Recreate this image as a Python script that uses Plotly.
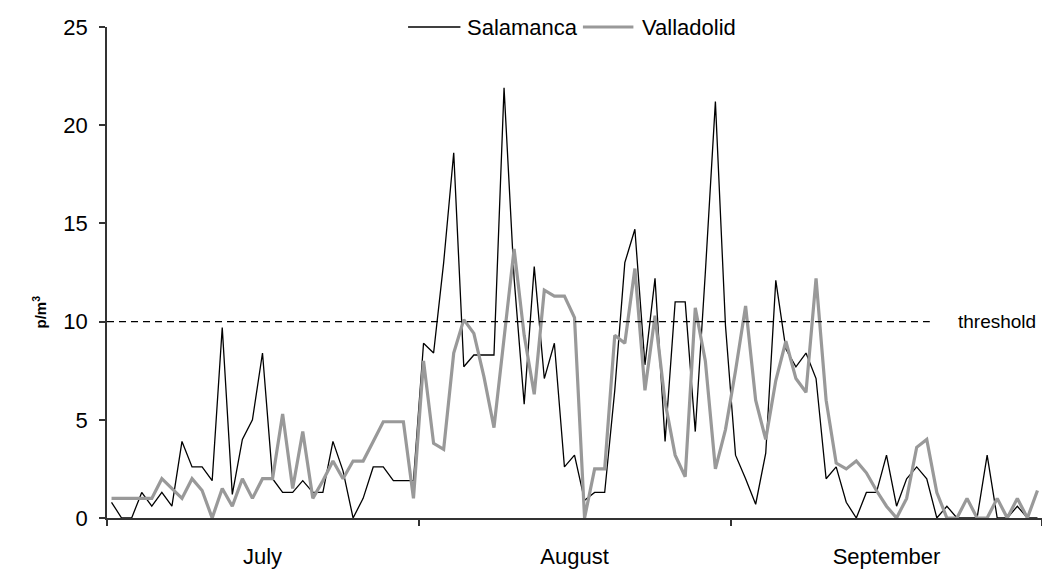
import plotly.graph_objects as go

# ---- data -------------------------------------------------------------
months = ["July", "August", "September"]
month_days = [31, 31, 31]          # categories per month label block
salamanca = [0.8, 0, 0, 1.3, 0.6, 1.3, 0.6, 3.9, 2.6, 2.6, 1.9, 9.7, 1.2, 4.0, 5.0, 8.4,
             2.0, 1.3, 1.3, 1.9, 1.3, 1.3, 3.9, 2.4, 0, 1.0, 2.6, 2.6, 1.9, 1.9, 1.9,
             8.9, 8.4, 13.0, 18.6, 7.7, 8.3, 8.3, 8.3, 21.9, 12.2, 5.8, 12.8, 7.1, 8.9, 2.6,
             3.2, 0.9, 1.3, 1.3, 6.5, 13.0, 14.7, 7.8, 12.2, 3.9, 11.0, 11.0, 4.4, 12.5, 21.2,
             9.8, 3.2, 2.0, 0.7, 3.3, 12.1, 8.6, 7.7, 8.4, 7.1, 2.0, 2.6, 0.8, 0, 1.3, 1.3,
             3.2, 0.6, 2.0, 2.6, 2.0, 0, 0.6, 0, 0, 0, 3.2, 0, 0, 0.6, 0, 0]
valladolid = [1.0, 1.0, 1.0, 1.0, 1.0, 2.0, 1.5, 1.0, 2.0, 1.4, 0, 1.5, 0.6, 2.0, 1.0, 2.0,
              2.0, 5.3, 1.5, 4.4, 1.0, 1.9, 2.9, 2.0, 2.9, 2.9, 3.9, 4.9, 4.9, 4.9, 1.0,
              8.0, 3.8, 3.5, 8.4, 10.1, 9.4, 7.2, 4.6, 9.0, 13.7, 9.3, 6.3, 11.6, 11.3, 11.3,
              10.2, 0, 2.5, 2.5, 9.3, 8.9, 12.7, 6.5, 10.3, 5.9, 3.2, 2.1, 10.7, 8.0, 2.5,
              4.5, 7.5, 10.8, 6.0, 4.0, 7.0, 9.0, 7.1, 6.4, 12.2, 6.0, 2.8, 2.5, 2.9, 2.3, 1.4,
              0.6, 0, 1.0, 3.6, 4.0, 1.3, 0, 0, 1.0, 0, 0, 1.0, 0, 1.0, 0, 1.4]
series_names = ["Salamanca", "Valladolid"]
threshold = 10
y_ticks = [0, 5, 10, 15, 20, 25]

days = list(range(len(salamanca)))

# month label positions / boundaries derived from month lengths
bounds = [-0.45]
centers = []
start = 0
for n in month_days:
    centers.append(start + (n - 1) / 2)
    start += n
    bounds.append(start - 0.5)
bounds[-1] = len(days) - 0.55

FONT = "Liberation Sans, Arial, sans-serif"
AX = "#333333"
COLORS = ["black", "#999999"]
WIDTHS = [1.3, 3.2]

fig = go.Figure()
for name, vals, col, w in zip(series_names, [salamanca, valladolid], COLORS, WIDTHS):
    fig.add_trace(go.Scatter(x=days, y=vals, mode="lines", name=name,
                             line=dict(color=col, width=w)))

# threshold line and label
fig.add_shape(type="line", xref="paper", yref="y", x0=0, x1=0.88, y0=threshold, y1=threshold,
              line=dict(color="black", width=1.2, dash="7px,5px"))
fig.add_annotation(xref="paper", yref="y", x=0.908, y=threshold, text="threshold",
                   showarrow=False, xanchor="left", yanchor="middle",
                   font=dict(family=FONT, size=19, color="black"))
# y-axis title
fig.add_annotation(xref="paper", yref="paper", x=-0.072, y=0.42, text="<b>p/m<sup>3</sup></b>",
                   showarrow=False, textangle=-90, xanchor="center", yanchor="middle",
                   font=dict(family=FONT, size=15, color="black"))

# legend drawn at top centre (line sample + label)
legend_pos = [(0.322, 0.378, 0.383), (0.509, 0.563, 0.570)]
for name, col, w, (l0, l1, tx) in zip(series_names, COLORS, WIDTHS, legend_pos):
    fig.add_shape(type="line", xref="paper", yref="paper", x0=l0, x1=l1, y0=1.0, y1=1.0,
                  line=dict(color=col, width=w))
    fig.add_annotation(xref="paper", yref="paper", x=tx, y=1.0, text=name, showarrow=False,
                       xanchor="left", yanchor="middle",
                       font=dict(family=FONT, size=22, color="black"))

fig.update_layout(
    width=1042, height=569,
    margin=dict(l=107, r=0, t=27, b=49, pad=0),
    paper_bgcolor="white", plot_bgcolor="white",
    font=dict(family=FONT, size=22, color="black"),
    showlegend=False,
    xaxis=dict(range=[-0.45, len(days) - 0.55], showgrid=False, zeroline=False,
               showline=True, linecolor=AX, linewidth=1.5,
               tickmode="array", tickvals=centers, ticktext=months, ticks="",
               ticklabelstandoff=18, tickfont=dict(family=FONT, size=22),
               minor=dict(tickmode="array", tickvals=bounds, ticks="outside",
                          ticklen=6, tickwidth=1.5, tickcolor=AX, showgrid=False)),
    yaxis=dict(range=[0, 25], tickmode="array", tickvals=y_ticks, showgrid=False,
               zeroline=False, showline=True, linecolor=AX, linewidth=1.5,
               ticks="outside", ticklen=6, tickwidth=1.5, tickcolor=AX,
               ticklabelstandoff=7, tickfont=dict(family=FONT, size=22)),
)

fig.write_html("out.html", config={"displayModeBar": False},
               post_script="document.body.style.margin='0';document.body.style.overflow='hidden';")
